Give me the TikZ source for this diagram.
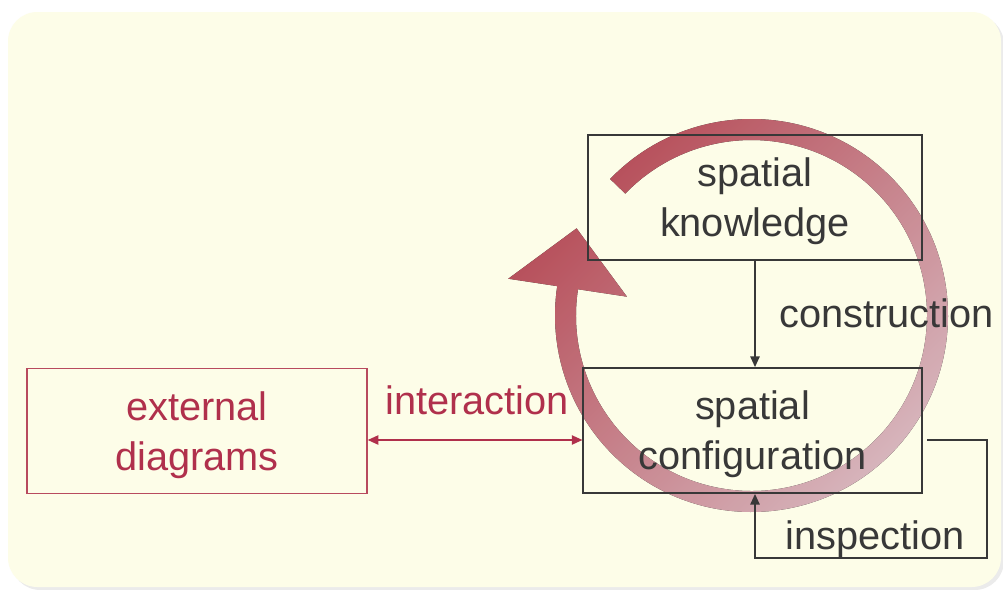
\documentclass[tikz,border=0pt]{standalone}
\usepackage{fontspec}
\setmainfont{Liberation Sans}
\usetikzlibrary{calc,arrows.meta}
\definecolor{paper}{HTML}{FDFDE8}
\definecolor{ink}{HTML}{383838}
\definecolor{wine}{HTML}{B0304C}
\definecolor{winebox}{HTML}{B84A5E}
\definecolor{ringdark}{HTML}{C64E5B}
\definecolor{ringlight}{HTML}{EDCAD2}
\tikzset{
  box/.style={draw=ink, line width=1.1pt, minimum width=#1, minimum height=94pt,
    inner sep=0pt, align=center, text=ink, text height=65pt},
  redbox/.style={box=#1, draw=winebox, text=wine},
  label/.style={inner sep=0pt, text=ink},
  conn/.style={draw=ink, line width=1.1pt, -{Triangle[length=8pt,width=7pt]}},
  redconn/.style={draw=wine, line width=1.1pt,
    {Triangle[length=8pt,width=7pt]}-{Triangle[length=8pt,width=7pt]}},
}
\begin{document}
\begin{tikzpicture}[x=0.75pt, y=-0.75pt,
  every node/.style={font=\fontsize{29.8}{37.5}\selectfont}]
\useasboundingbox (0,0) rectangle (1003,589);
\fill[white] (0,0) rectangle (1003,589);
% soft shadow and cream panel
\fill[black!8, rounded corners=22pt] (11,15) rectangle (1004,590);
\fill[paper, rounded corners=22pt] (8,12) rectangle (1001,587);

% circular cycle arrow
\coordinate (C) at (751.5,315.5);
\fill[top color=ringdark, bottom color=ringlight, shading angle=45, opacity=0.9]
  ($(C)+(-136:196.5)$) arc[start angle=-136, end angle=188.6, radius=196.5]
  -- ($(C)+(-171.4:246)$)
  -- ($(C)+(-171.4:186)+(-81.4:60)$)
  -- ($(C)+(-171.4:126)$)
  -- ($(C)+(-171.4:175.5)$)
  arc[start angle=188.6, end angle=-136, radius=175.5] -- cycle;

% boxes
\node[box=250.5pt] (know) at (755,197.5) {spatial\\knowledge};
\node[box=254pt] (conf) at (752.5,430.5) {spatial\\configuration};
\node[redbox=255pt] (ext) at (197,431) {external\\diagrams};

% construction
\draw[conn] (know.south) -- (know.south |- conf.north);
\node[label, anchor=west] (lcons) at (779,313) {construction};

% interaction
\draw[redconn] (ext.east |- 0,440) -- (conf.west |- 0,440);
\node[label, text=wine] (linter) at (477,400) {interaction};

% inspection loop
\coordinate (i1) at (927,440);
\coordinate (i2) at (987,440);
\coordinate (i3) at (987,558);
\coordinate (i4) at (755,558);
\draw[conn] (i1) -- (i2) -- (i3) -- (i4) -- (i4 |- conf.south);
\node[label] (linsp) at (875,539) {inspection};
\end{tikzpicture}
\end{document}
